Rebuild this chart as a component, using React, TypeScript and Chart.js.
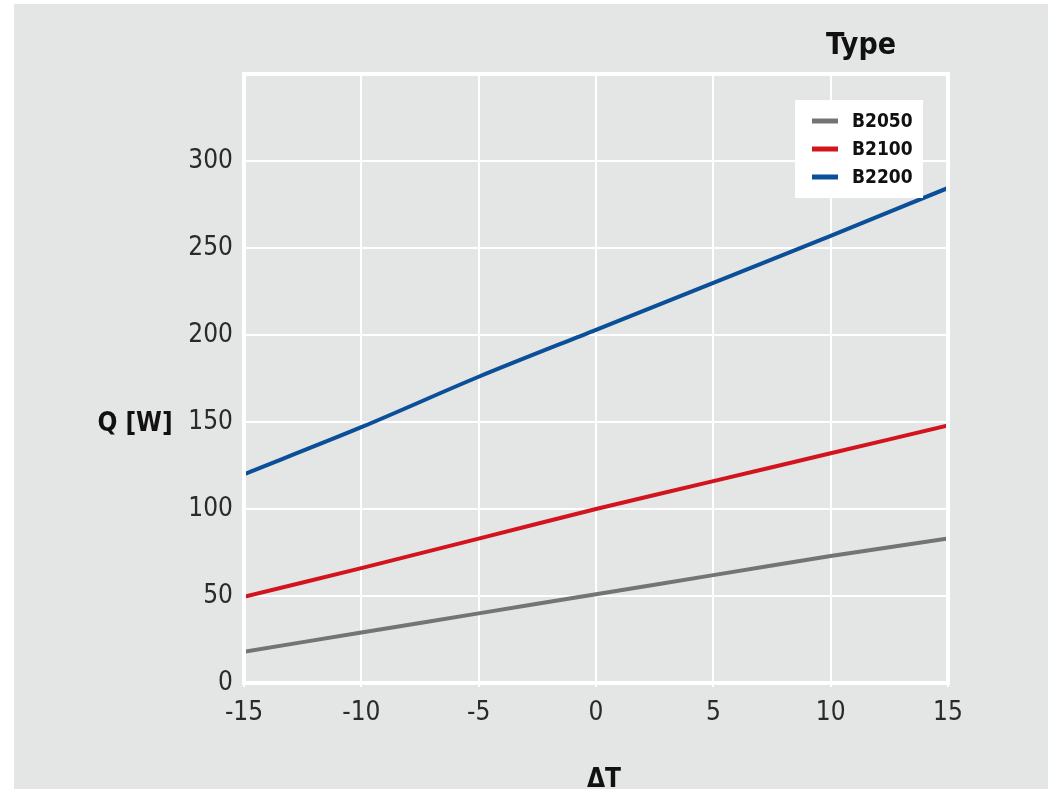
import React, { useEffect, useRef } from "react";
import { Chart, registerables } from "chart.js";

Chart.register(...registerables);

const xValues = [-15, -10, -5, 0, 5, 10, 15];
const seriesNames = ["B2050", "B2100", "B2200"];
const b2050 = [18, 29, 40, 51, 62, 73, 83];
const b2100 = [49.5, 66, 83, 100, 116, 132, 148];
const b2200 = [120, 147, 176, 203, 230, 257, 284.5];
const seriesColors = ["#747474", "#d2141f", "#0b4f98"];
const xTitle = "ΔT";
const yTitle = "Q [W]";
const legendTitle = "Type";

const BG = "#e4e5e5";
const TICK_FONT = "'Liberation Sans Narrow', 'DejaVu Sans Condensed', sans-serif";
const BOLD_FONT = "'Liberation Sans Narrow', 'DejaVu Sans Condensed', sans-serif";

const decorPlugin = {
  id: "decor",
  beforeDraw(chart: any) {
    const { ctx, width, height } = chart;
    ctx.save();
    ctx.fillStyle = BG;
    ctx.fillRect(0, 0, width, height);
    ctx.restore();
  },
  afterDatasetsDraw(chart: any) {
    const { ctx, chartArea } = chart;
    ctx.save();
    ctx.strokeStyle = "#ffffff";
    ctx.lineWidth = 4;
    ctx.strokeRect(chartArea.left, chartArea.top, chartArea.right - chartArea.left, chartArea.bottom - chartArea.top);
    ctx.restore();
  },
  afterDraw(chart: any) {
    const { ctx, chartArea } = chart;
    ctx.save();
    ctx.fillStyle = "#111111";
    ctx.textBaseline = "middle";
    ctx.textAlign = "center";
    ctx.font = `bold 30px ${BOLD_FONT}`;
    ctx.fillText(legendTitle, 847, 42);
    ctx.font = `bold 26px ${BOLD_FONT}`;
    ctx.fillText(yTitle, 121, 420);
    ctx.fillText(xTitle, 590, 776);

    const bx = chartArea.right - 153;
    const by = chartArea.top + 26;
    ctx.fillStyle = "#ffffff";
    ctx.fillRect(bx, by, 128, 98);
    ctx.font = `bold 19px ${BOLD_FONT}`;
    ctx.textAlign = "left";
    chart.data.datasets.forEach((ds: any, i: number) => {
      const cy = by + 21 + i * 28;
      ctx.strokeStyle = ds.borderColor;
      ctx.lineWidth = 5;
      ctx.beginPath();
      ctx.moveTo(bx + 17, cy);
      ctx.lineTo(bx + 43, cy);
      ctx.stroke();
      ctx.fillStyle = "#111111";
      ctx.fillText(ds.label, bx + 57, cy + 1);
    });
    ctx.restore();
  },
};

export default function App() {
  const ref = useRef<HTMLCanvasElement>(null);
  useEffect(() => {
    const datasets = [b2050, b2100, b2200].map((vals, i) => ({
      label: seriesNames[i],
      data: xValues.map((x, j) => ({ x, y: vals[j] })),
      borderColor: seriesColors[i],
      backgroundColor: seriesColors[i],
      borderWidth: 4,
      pointRadius: 0,
      tension: 0.3,
      fill: false,
    }));
    const chart = new Chart(ref.current!, {
      type: "line",
      data: { datasets },
      plugins: [decorPlugin],
      options: {
        animation: false,
        responsive: false,
        devicePixelRatio: 1,
        layout: { padding: { left: 0, top: 70, right: 100, bottom: 0 } },
        plugins: { legend: { display: false }, tooltip: { enabled: false } },
        scales: {
          x: {
            type: "linear",
            min: -15,
            max: 15,
            ticks: {
              stepSize: 5,
              color: "#2a2a2a",
              font: { family: TICK_FONT, size: 26 },
              padding: 11,
            },
            grid: { color: "#ffffff", lineWidth: 2, tickLength: 4, tickColor: "#ffffff" },
            border: { display: false },
            afterFit: (s: any) => {
              s.height = 111;
            },
          },
          y: {
            min: 0,
            max: 350,
            ticks: {
              stepSize: 50,
              color: "#2a2a2a",
              font: { family: TICK_FONT, size: 26 },
              padding: 11,
              callback: (v: any) => (v === 350 ? "" : String(v)),
            },
            grid: { color: "#ffffff", lineWidth: 2, drawTicks: false },
            border: { display: false },
            afterFit: (s: any) => {
              s.width = 230;
            },
          },
        },
      },
    });
    return () => chart.destroy();
  }, []);
  return (
    <div style={{ position: "absolute", left: 14, top: 4, width: 1034, height: 790, overflow: "hidden" }}>
      <canvas ref={ref} width={1034} height={790} style={{ display: "block" }} />
    </div>
  );
}
